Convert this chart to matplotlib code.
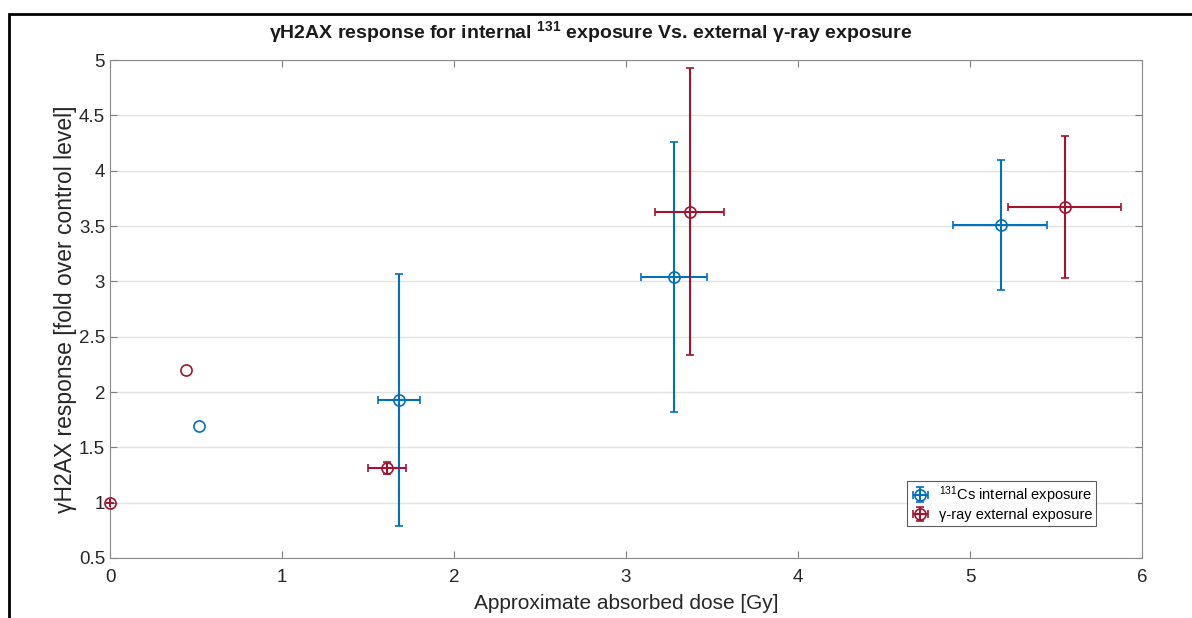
import matplotlib
matplotlib.use("Agg")
import matplotlib.pyplot as plt
from matplotlib.patches import Rectangle

plt.rcParams['font.family'] = ['Liberation Sans', 'DejaVu Sans']
plt.rcParams['mathtext.default'] = 'regular'

# 131Cs internal exposure (with error bars)
cs_dose = [1.68, 3.28, 5.18]
cs_resp = [1.93, 3.04, 3.51]
cs_dose_lo = [1.56, 3.09, 4.90]
cs_dose_hi = [1.80, 3.47, 5.45]
cs_resp_lo = [0.79, 1.82, 2.92]
cs_resp_hi = [3.07, 4.26, 4.10]

# gamma-ray external exposure (with error bars)
gr_dose = [0.0, 1.61, 3.37, 5.55]
gr_resp = [1.0, 1.31, 3.63, 3.67]
gr_dose_lo = [0.0, 1.50, 3.17, 5.22]
gr_dose_hi = [0.0, 1.72, 3.57, 5.88]
gr_resp_lo = [1.0, 1.26, 2.33, 3.03]
gr_resp_hi = [1.0, 1.37, 4.93, 4.31]

# single points without error bars
cs_single = (0.52, 1.69)
gr_single = (0.44, 2.20)

blue = '#0072BD'
red = '#A2142F'

fig = plt.figure(figsize=(11.92, 6.18), dpi=100)
ax = fig.add_axes([110/1192, 1-558/618, (1142-110)/1192, (558-60)/618])

def err(v, lo, hi):
    return [[a - b for a, b in zip(v, lo)], [b - a for a, b in zip(v, hi)]]

kw = dict(fmt='o', mfc='none', ms=8, mew=1.2, lw=1.5, capsize=3, capthick=1.5, clip_on=False)
ax.errorbar(cs_dose, cs_resp, xerr=err(cs_dose, cs_dose_lo, cs_dose_hi),
            yerr=err(cs_resp, cs_resp_lo, cs_resp_hi), color=blue,
            label='$^{131}$Cs internal exposure', zorder=3, **kw)
ax.errorbar(gr_dose, gr_resp, xerr=err(gr_dose, gr_dose_lo, gr_dose_hi),
            yerr=err(gr_resp, gr_resp_lo, gr_resp_hi), color=red,
            label='γ-ray external exposure', zorder=3, **kw)
ax.plot(*cs_single, 'o', mfc='none', mec=blue, ms=8, mew=1.2)
ax.plot(*gr_single, 'o', mfc='none', mec=red, ms=8, mew=1.2)

ax.set_xlim(0, 6)
ax.set_ylim(0.5, 5)
ax.set_yticks([0.5, 1, 1.5, 2, 2.5, 3, 3.5, 4, 4.5, 5])
ax.set_yticklabels(['0.5', '1', '1.5', '2', '2.5', '3', '3.5', '4', '4.5', '5'])
ax.yaxis.grid(True, color='#e3e3e3', lw=1)
ax.set_axisbelow(True)
ax.tick_params(direction='in', top=True, right=True, length=5, labelsize=13.5,
               color='#7f7f7f', labelcolor='#262626')
ax.tick_params(axis='x', pad=8)
for s in ax.spines.values():
    s.set_color('#8a8a8a')

ax.set_xlabel('Approximate absorbed dose [Gy]', fontsize=15, color='#262626', labelpad=6)
ax.set_ylabel('γH2AX response [fold over control level]', fontsize=16.5, color='#262626', labelpad=1)
ax.set_title('γH2AX response for internal $^{131}$ exposure Vs. external γ-ray exposure',
             fontsize=14, fontweight='bold', color='#1a1a1a', pad=16, x=0.466)

leg = ax.legend(loc='lower right', bbox_to_anchor=(1103/1192, 1-533/618),
                bbox_transform=fig.transFigure, fontsize=10.5, frameon=True, fancybox=False,
                handlelength=1.3, borderpad=0.25, labelspacing=0.15, handletextpad=0.6)
leg.get_frame().set_edgecolor('#333333')
leg.get_frame().set_linewidth(0.8)

# black frame around the figure (only left and top visible)
fig.patches.append(Rectangle((9/1192, -0.1), 1.2, 1 - 14/618 + 0.1, transform=fig.transFigure,
                             fill=False, ec='black', lw=2))

fig.savefig('out.png', dpi=100)
